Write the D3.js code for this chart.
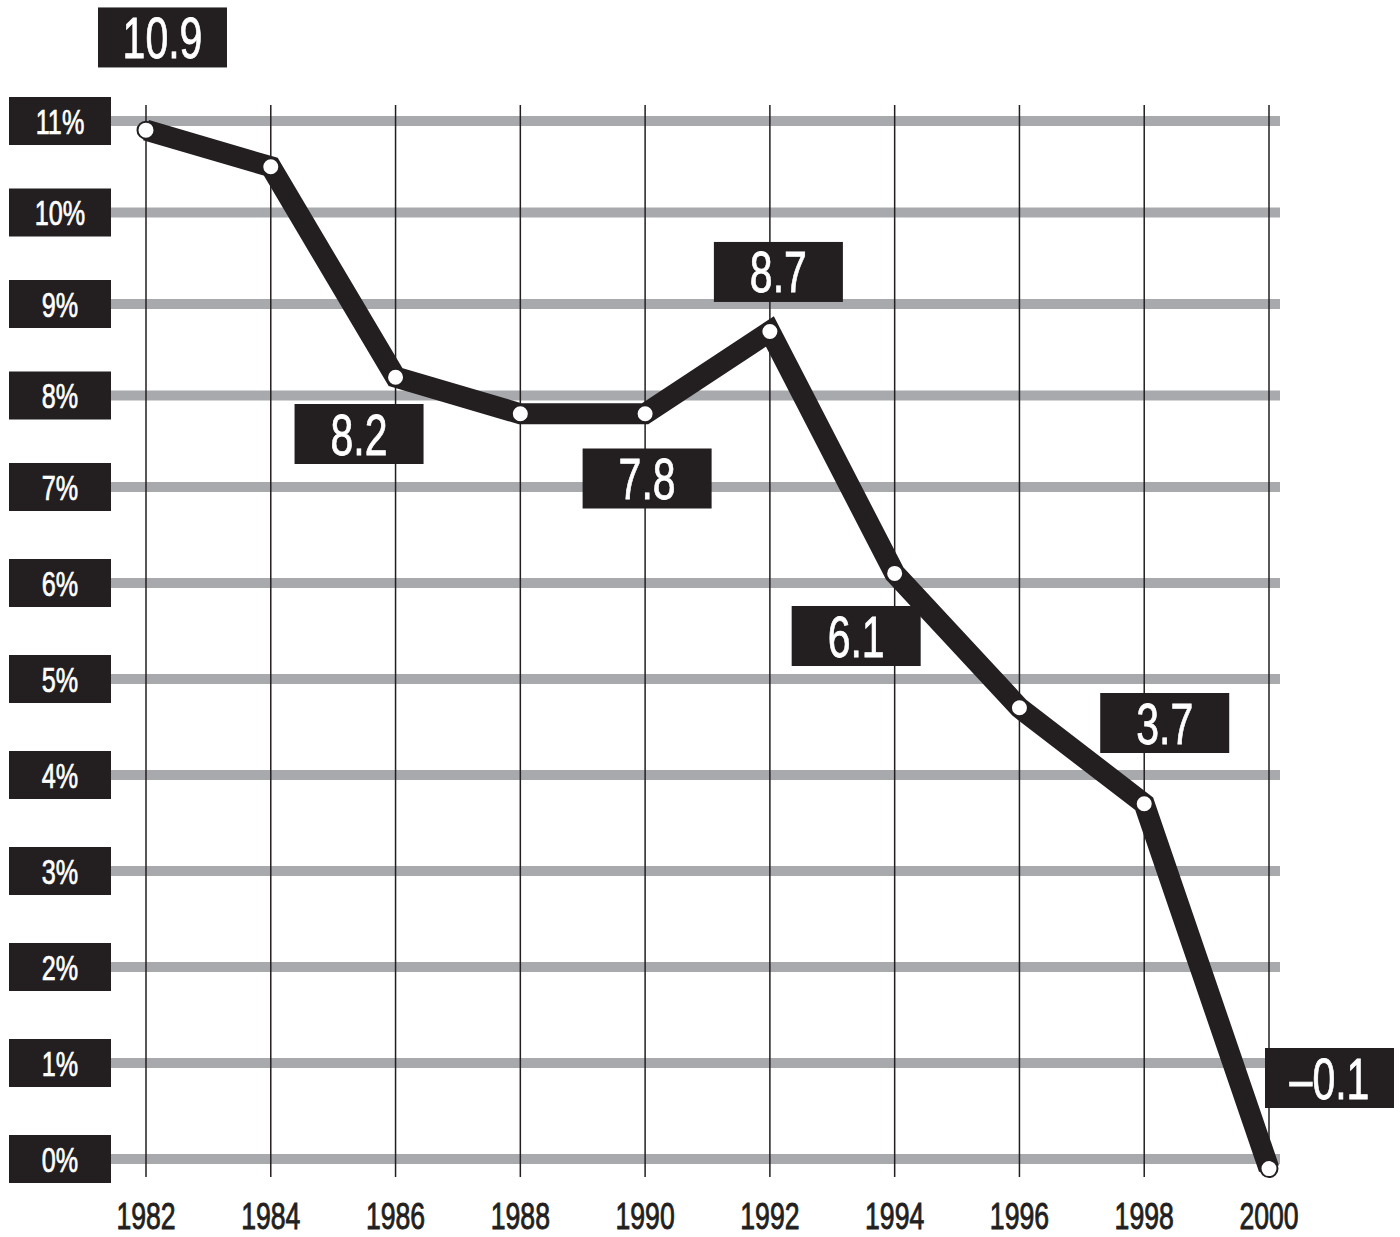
<!DOCTYPE html>
<html>
<head>
<meta charset="utf-8">
<script src="https://cdn.jsdelivr.net/npm/d3@7"></script>
<style>
  html, body { margin: 0; padding: 0; background: #ffffff; }
  svg { display: block; }
  text { font-family: "Liberation Sans", Arial, sans-serif; }
</style>
</head>
<body>
<svg id="chart" width="1400" height="1237"></svg>
<script>
// ---- data ----
const years = [1982, 1984, 1986, 1988, 1990, 1992, 1994, 1996, 1998, 2000];
const rates = [10.9, 10.5, 8.2, 7.8, 7.8, 8.7, 6.1, 4.7, 3.7, -0.1];
const labelledYears = [1982, 1986, 1990, 1992, 1994, 1998, 2000];
const yTicks = [0, 1, 2, 3, 4, 5, 6, 7, 8, 9, 10, 11];
const yTickLabels = ["0%", "1%", "2%", "3%", "4%", "5%", "6%", "7%", "8%", "9%", "10%", "11%"];
const xTickLabels = ["1982", "1984", "1986", "1988", "1990", "1992", "1994", "1996", "1998", "2000"];

// ---- layout (label box offsets from their point, px) ----
const labelOffsets = [[16.5, -92.7], [-36.5, 56.8], [2, 64.7], [8.5, -59.5], [-38.5, 62.6], [20.5, -80.8], [60.5, -90.6]];

const INK = "#231f20", GRID = "#a7a9ac";
const svg = d3.select("#chart");

const x = d3.scaleLinear().domain([1982, 2000]).range([146, 1269]);
const y = d3.scaleLinear().domain([0, 7, 11]).range([1159, 487, 121]);

const condensed = 0.72;
const fmt = v => (v < 0 ? "\u2013" : "") + d3.format(".1f")(Math.abs(v));

// horizontal gray gridlines
svg.append("g").selectAll("line").data(yTicks).join("line")
  .attr("x1", 111).attr("x2", 1280)
  .attr("y1", d => y(d)).attr("y2", d => y(d))
  .attr("stroke", GRID).attr("stroke-width", 10);

// vertical year lines
svg.append("g").selectAll("line").data(years).join("line")
  .attr("x1", d => x(d)).attr("x2", d => x(d))
  .attr("y1", 105).attr("y2", 1177)
  .attr("stroke", INK).attr("stroke-width", 1.5);

// y-axis label boxes
const yl = svg.append("g").selectAll("g").data(yTicks).join("g")
  .attr("transform", d => `translate(0,${y(d)})`);
yl.append("rect").attr("x", 9).attr("y", -24).attr("width", 102).attr("height", 48).attr("fill", INK);
yl.append("text")
  .attr("transform", `translate(60,12.5) scale(${condensed},1)`)
  .attr("text-anchor", "middle").attr("fill", "#fff").attr("font-size", 35)
  .attr("stroke", "#fff").attr("stroke-width", 0.7)
  .text((d, i) => yTickLabels[i]);

// x-axis labels
svg.append("g").selectAll("text").data(years).join("text")
  .attr("transform", d => `translate(${x(d)},1229) scale(${condensed},1)`)
  .attr("text-anchor", "middle").attr("fill", INK).attr("font-size", 37)
  .attr("stroke", INK).attr("stroke-width", 0.9)
  .text((d, i) => xTickLabels[i]);

// main line
const pts = years.map((yr, i) => [yr, rates[i]]);
svg.append("path").datum(pts)
  .attr("d", d3.line().x(d => x(d[0])).y(d => y(d[1])))
  .attr("fill", "none").attr("stroke", INK).attr("stroke-width", 21)
  .attr("stroke-linejoin", "miter").attr("stroke-miterlimit", 4);

// markers
svg.append("g").selectAll("circle").data(pts).join("circle")
  .attr("cx", d => x(d[0])).attr("cy", d => y(d[1])).attr("r", 8.5)
  .attr("fill", "#fff").attr("stroke", INK).attr("stroke-width", 2);

// value labels
const lab = svg.append("g").selectAll("g").data(labelledYears).join("g")
  .attr("transform", (yr, i) => {
    const v = rates[years.indexOf(yr)];
    return `translate(${x(yr) + labelOffsets[i][0]},${y(v) + labelOffsets[i][1]})`;
  });
lab.append("rect").attr("x", -64.5).attr("y", -30).attr("width", 129).attr("height", 60).attr("fill", INK);
lab.append("text")
  .attr("transform", `translate(0,20.5) scale(${condensed},1)`)
  .attr("text-anchor", "middle").attr("fill", "#fff").attr("font-size", 57)
  .attr("stroke", "#fff").attr("stroke-width", 0.8)
  .text(yr => fmt(rates[years.indexOf(yr)]));
</script>
</body>
</html>
